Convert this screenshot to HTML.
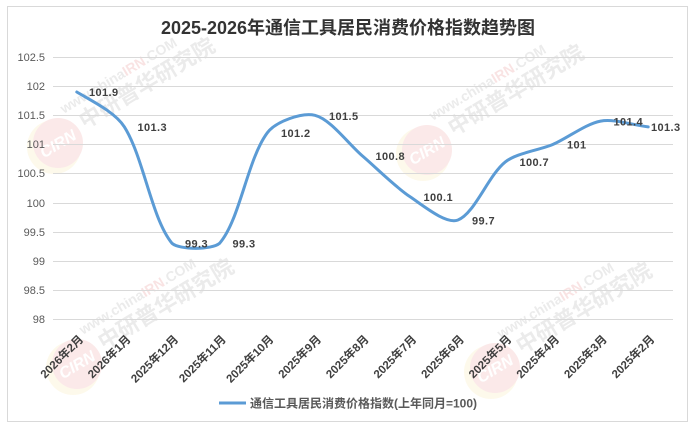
<!DOCTYPE html>
<html><head><meta charset="utf-8"><style>
html,body{margin:0;padding:0;background:#fff;}
svg{display:block;font-family:"Liberation Sans","Noto Sans CJK SC",sans-serif;}
</style></head><body>
<svg width="696" height="430" viewBox="0 0 696 430" xmlns="http://www.w3.org/2000/svg">
<rect x="0" y="0" width="696" height="430" fill="#fff"/>
<rect x="7.5" y="6.5" width="680" height="415" fill="#fff" stroke="#D9D9D9" stroke-width="1"/>

<!-- watermarks -->
<g id="wms" opacity="0.42">
  <g transform="translate(58,143)">
    <circle cx="-4" cy="4" r="27" fill="#FBF1CF"/>
    <circle cx="0" cy="0" r="25" fill="#F5CACA"/>
    <text x="-20" y="6" font-size="16" font-weight="bold" font-style="italic" fill="#fff" transform="rotate(-31)">CIRN</text>
    <text x="30" y="2" font-size="22" font-weight="bold" fill="#D0D0D0" transform="rotate(-31)">中研普华研究院</text>
    <text x="20" y="-22" font-size="14" font-weight="bold" fill="#D0D0D0" transform="rotate(-31)">www.china<tspan fill="#F0BDBD">IRN</tspan>.COM</text>
  </g>
  <g transform="translate(427,150)">
    <circle cx="-4" cy="4" r="27" fill="#FBF1CF"/>
    <circle cx="0" cy="0" r="25" fill="#F5CACA"/>
    <text x="-20" y="6" font-size="16" font-weight="bold" font-style="italic" fill="#fff" transform="rotate(-31)">CIRN</text>
    <text x="30" y="2" font-size="22" font-weight="bold" fill="#D0D0D0" transform="rotate(-31)">中研普华研究院</text>
    <text x="20" y="-22" font-size="14" font-weight="bold" fill="#D0D0D0" transform="rotate(-31)">www.china<tspan fill="#F0BDBD">IRN</tspan>.COM</text>
  </g>
  <g transform="translate(77,364)">
    <circle cx="-4" cy="4" r="27" fill="#FBF1CF"/>
    <circle cx="0" cy="0" r="25" fill="#F5CACA"/>
    <text x="-20" y="6" font-size="16" font-weight="bold" font-style="italic" fill="#fff" transform="rotate(-31)">CIRN</text>
    <text x="30" y="2" font-size="22" font-weight="bold" fill="#D0D0D0" transform="rotate(-31)">中研普华研究院</text>
    <text x="20" y="-22" font-size="14" font-weight="bold" fill="#D0D0D0" transform="rotate(-31)">www.china<tspan fill="#F0BDBD">IRN</tspan>.COM</text>
  </g>
  <g transform="translate(495,368)">
    <circle cx="-4" cy="4" r="27" fill="#FBF1CF"/>
    <circle cx="0" cy="0" r="25" fill="#F5CACA"/>
    <text x="-20" y="6" font-size="16" font-weight="bold" font-style="italic" fill="#fff" transform="rotate(-31)">CIRN</text>
    <text x="30" y="2" font-size="22" font-weight="bold" fill="#D0D0D0" transform="rotate(-31)">中研普华研究院</text>
    <text x="20" y="-22" font-size="14" font-weight="bold" fill="#D0D0D0" transform="rotate(-31)">www.china<tspan fill="#F0BDBD">IRN</tspan>.COM</text>
  </g>
</g>

<!-- title -->
<text x="348" y="34" text-anchor="middle" font-size="18" font-weight="bold" fill="#333">2025-2026年通信工具居民消费价格指数趋势图</text>

<!-- gridlines -->
<g stroke="#D9D9D9" stroke-width="1">
  <line x1="53" y1="57.5" x2="673" y2="57.5"/>
  <line x1="53" y1="86.5" x2="673" y2="86.5"/>
  <line x1="53" y1="115.5" x2="673" y2="115.5"/>
  <line x1="53" y1="144.5" x2="673" y2="144.5"/>
  <line x1="53" y1="173.5" x2="673" y2="173.5"/>
  <line x1="53" y1="203.5" x2="673" y2="203.5"/>
  <line x1="53" y1="232.5" x2="673" y2="232.5"/>
  <line x1="53" y1="261.5" x2="673" y2="261.5"/>
  <line x1="53" y1="290.5" x2="673" y2="290.5"/>
  <line x1="53" y1="319.5" x2="673" y2="319.5"/>
</g>

<!-- y labels -->
<g font-size="11" fill="#595959" text-anchor="end">
  <text x="45" y="61">102.5</text>
  <text x="45" y="90">102</text>
  <text x="45" y="119">101.5</text>
  <text x="45" y="148">101</text>
  <text x="45" y="177">100.5</text>
  <text x="45" y="207">100</text>
  <text x="45" y="236">99.5</text>
  <text x="45" y="265">99</text>
  <text x="45" y="294">98.5</text>
  <text x="45" y="323">98</text>
</g>

<!-- x labels -->
<g font-size="11.5" font-weight="bold" fill="#404040" text-anchor="end">
  <text transform="translate(84,340) rotate(-45)">2026年2月</text>
  <text transform="translate(131.4,340) rotate(-45)">2026年1月</text>
  <text transform="translate(179,340) rotate(-45)">2025年12月</text>
  <text transform="translate(226.6,340) rotate(-45)">2025年11月</text>
  <text transform="translate(274.3,340) rotate(-45)">2025年10月</text>
  <text transform="translate(321.9,340) rotate(-45)">2025年9月</text>
  <text transform="translate(369.5,340) rotate(-45)">2025年8月</text>
  <text transform="translate(417.1,340) rotate(-45)">2025年7月</text>
  <text transform="translate(464.7,340) rotate(-45)">2025年6月</text>
  <text transform="translate(512.3,340) rotate(-45)">2025年5月</text>
  <text transform="translate(560,340) rotate(-45)">2025年4月</text>
  <text transform="translate(607.6,340) rotate(-45)">2025年3月</text>
  <text transform="translate(655.2,340) rotate(-45)">2025年2月</text>
</g>

<!-- series -->
<path d="M76.8,92.0 C92,101 115.3,112.4 124.4,126.9 C143.8,157.8 151.3,218.0 172.0,243.3 C179.8,250 211.5,250 219.6,243.3 C240.1,219.6 247.2,159.8 267.3,132.8 C275.8,121.4 302.1,112.2 314.9,115.3 C330.7,119.2 348.2,143.8 362.5,156.0 C376.8,168.2 394.6,186.4 410.1,196.8 C423.2,205.6 445.9,224.4 457.7,220.1 C474.5,214.0 488.2,175.5 505.3,161.9 C516.8,152.8 539.0,150.4 553.0,144.4 C567.6,138.1 585.6,123.9 600.6,121.1 C614.2,118.6 632.3,125.0 648.2,126.9" fill="none" stroke="#5B9BD5" stroke-width="3" stroke-linecap="round" stroke-linejoin="round"/>

<!-- data labels -->
<g font-size="11" font-weight="bold" fill="#404040" letter-spacing="0.4">
  <text x="89" y="96">101.9</text>
  <text x="137.5" y="131">101.3</text>
  <text x="185" y="247.5">99.3</text>
  <text x="232.5" y="247.5">99.3</text>
  <text x="281" y="137">101.2</text>
  <text x="329" y="120">101.5</text>
  <text x="375.5" y="160">100.8</text>
  <text x="423.5" y="201">100.1</text>
  <text x="472" y="224.5">99.7</text>
  <text x="519.5" y="166">100.7</text>
  <text x="567" y="148.5">101</text>
  <text x="613.5" y="125.5">101.4</text>
  <text x="651" y="131">101.3</text>
</g>

<!-- legend -->
<line x1="219" y1="403" x2="246" y2="403" stroke="#5B9BD5" stroke-width="3"/>
<text x="250" y="407.5" font-size="12" font-weight="bold" fill="#595959">通信工具居民消费价格指数(上年同月=100)</text>
</svg>
</body></html>
